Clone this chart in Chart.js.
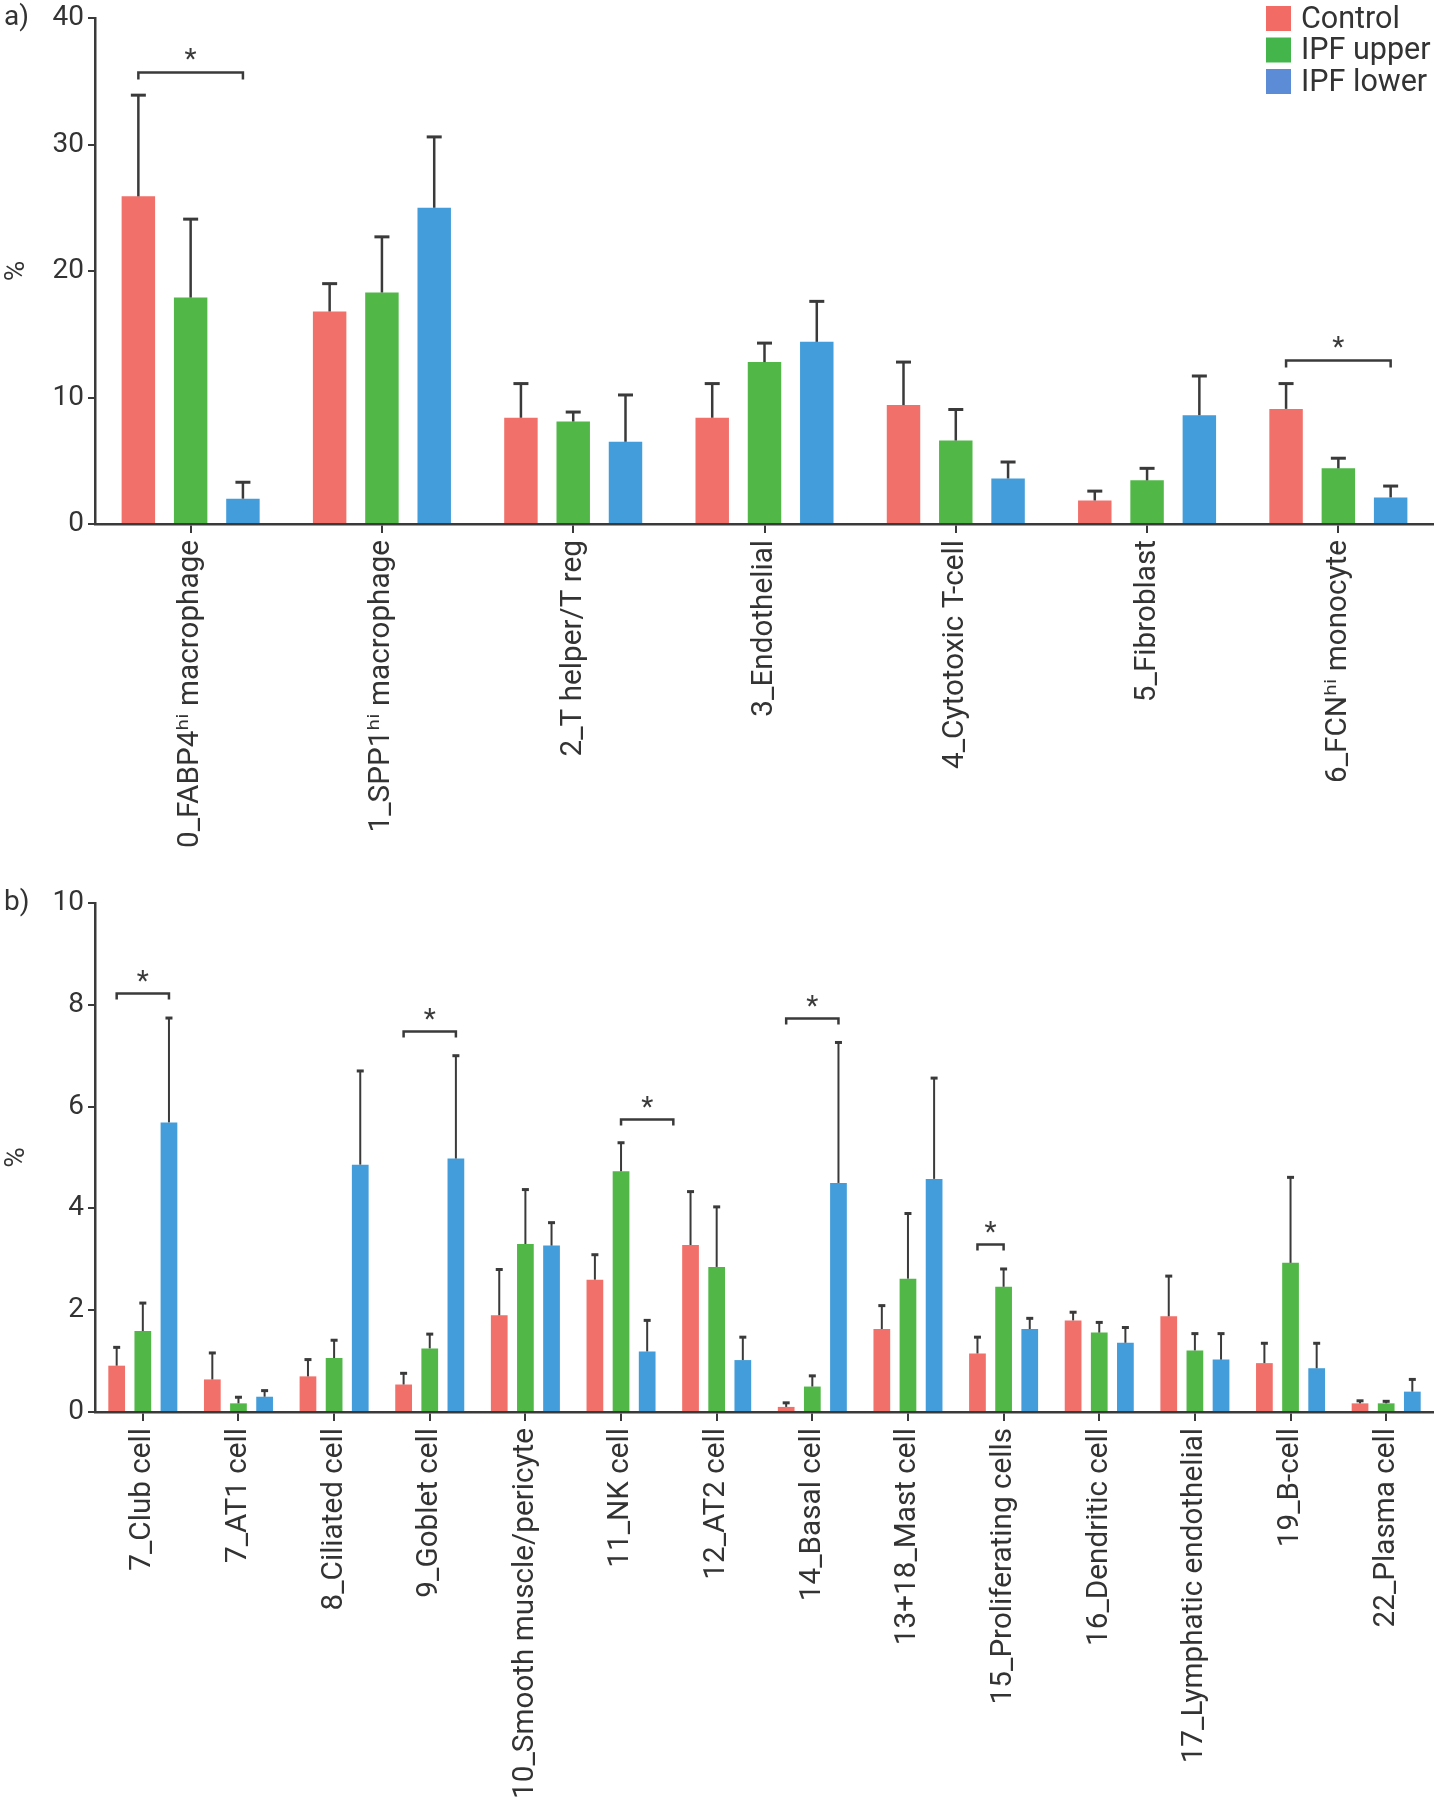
<!DOCTYPE html>
<html><head><meta charset="utf-8">
<script src="https://cdn.jsdelivr.net/npm/chart.js@4.4.1/dist/chart.umd.min.js"></script>
<style>
html,body{margin:0;padding:0;background:#fff;}
#wrap{position:relative;width:1434px;height:1800px;overflow:hidden;}
canvas{position:absolute;left:0;}
#ca{top:0;} #cb{top:870px;}
</style></head><body>
<div id="wrap">
<canvas id="ca" width="1434" height="870"></canvas>
<canvas id="cb" width="1434" height="930"></canvas>
</div>
<script>
// ---------- DATA ----------
const seriesNames = ['Control', 'IPF upper', 'IPF lower'];

const categoriesA = ['0_FABP4\u02B0\u2071 macrophage', '1_SPP1\u02B0\u2071 macrophage', '2_T helper/T reg',
  '3_Endothelial', '4_Cytotoxic T-cell', '5_Fibroblast', '6_FCN\u02B0\u2071 monocyte'];
const controlA      = [25.9, 16.8, 8.4, 8.4, 9.4, 1.86, 9.1];
const controlAErr   = [33.9, 19.0, 11.1, 11.1, 12.8, 2.6, 11.1];
const ipfUpperA     = [17.9, 18.3, 8.1, 12.8, 6.6, 3.45, 4.4];
const ipfUpperAErr  = [24.1, 22.7, 8.85, 14.3, 9.05, 4.4, 5.2];
const ipfLowerA     = [2.0, 25.0, 6.5, 14.4, 3.6, 8.6, 2.1];
const ipfLowerAErr  = [3.3, 30.6, 10.2, 17.6, 4.9, 11.7, 3.0];
const ticksA = [0, 10, 20, 30, 40];
// significance brackets: category, from bar, to bar, level (%)
const sigA = [
  {cat: 0, from: 0, to: 2, level: 35.7},
  {cat: 6, from: 0, to: 2, level: 13.0}
];

const categoriesB = ['7_Club cell', '7_AT1 cell', '8_Ciliated cell', '9_Goblet cell', '10_Smooth muscle/pericyte',
  '11_NK cell', '12_AT2 cell', '14_Basal cell', '13+18_Mast cell', '15_Proliferating cells', '16_Dendritic cell',
  '17_Lymphatic endothelial', '19_B-cell', '22_Plasma cell'];
const controlB      = [0.91, 0.64, 0.70, 0.54, 1.90, 2.60, 3.28, 0.10, 1.63, 1.15, 1.80, 1.88, 0.96, 0.17];
const controlBErr   = [1.27, 1.16, 1.03, 0.76, 2.80, 3.09, 4.33, 0.18, 2.09, 1.47, 1.96, 2.67, 1.35, 0.22];
const ipfUpperB     = [1.59, 0.17, 1.06, 1.25, 3.30, 4.73, 2.85, 0.50, 2.62, 2.46, 1.56, 1.21, 2.93, 0.17];
const ipfUpperBErr  = [2.14, 0.29, 1.41, 1.53, 4.37, 5.29, 4.03, 0.71, 3.90, 2.81, 1.76, 1.54, 4.61, 0.21];
const ipfLowerB     = [5.69, 0.30, 4.86, 4.98, 3.27, 1.19, 1.02, 4.50, 4.58, 1.63, 1.36, 1.03, 0.86, 0.40];
const ipfLowerBErr  = [7.74, 0.42, 6.70, 7.00, 3.72, 1.80, 1.47, 7.26, 6.56, 1.84, 1.66, 1.54, 1.35, 0.64];
const ticksB = [0, 2, 4, 6, 8, 10];
const sigB = [
  {cat: 0, from: 0, to: 2, level: 8.23},
  {cat: 3, from: 0, to: 2, level: 7.48},
  {cat: 5, from: 1, to: 3, level: 5.76},
  {cat: 7, from: 0, to: 2, level: 7.74},
  {cat: 9, from: 0, to: 1, level: 3.30}
];

// ---------- STYLE ----------
const INK = '#3a3a3a';
const TEXT = '#333333';
const FONT = 'Roboto, "DejaVu Sans", sans-serif';
const barColors = ['#F2706A', '#51B848', '#429DDA'];
const legendColors = ['#F26C65', '#43B54A', '#5B8CD5'];

Chart.defaults.font.family = FONT;
Chart.defaults.color = TEXT;

const annotPlugin = {
  id: 'annot',
  afterDatasetsDraw(chart, args, o) {
    const ctx = chart.ctx, ys = chart.scales.y;
    ctx.save();
    ctx.strokeStyle = INK;
    ctx.fillStyle = INK;
    ctx.lineWidth = o.lw;
    o.err.forEach((arr, di) => {
      const meta = chart.getDatasetMeta(di);
      meta.data.forEach((bar, i) => {
        const yt = ys.getPixelForValue(arr[i]);
        ctx.beginPath();
        ctx.moveTo(bar.x, bar.y);
        ctx.lineTo(bar.x, yt);
        ctx.stroke();
        ctx.lineWidth = o.capLw;
        ctx.beginPath();
        ctx.moveTo(bar.x - o.cap / 2, yt);
        ctx.lineTo(bar.x + o.cap / 2, yt);
        ctx.stroke();
        ctx.lineWidth = o.lw;
      });
    });
    ctx.font = o.starSize + 'px ' + FONT;
    ctx.textAlign = 'center';
    ctx.textBaseline = 'alphabetic';
    o.sig.forEach(s => {
      const b0 = chart.getDatasetMeta(0).data[s.cat];
      const b1 = chart.getDatasetMeta(1).data[s.cat];
      const sp = b1.x - b0.x;
      const x1 = b0.x + s.from * sp, x2 = b0.x + s.to * sp;
      const yb = Math.round(ys.getPixelForValue(s.level)) + 0.5;
      ctx.lineWidth = o.bracketLw;
      ctx.beginPath();
      ctx.moveTo(x1, yb + o.bracketTick);
      ctx.lineTo(x1, yb);
      ctx.lineTo(x2, yb);
      ctx.lineTo(x2, yb + o.bracketTick);
      ctx.stroke();
      ctx.fillText('*', (x1 + x2) / 2, yb - o.starGap);
    });
    ctx.restore();
  },
  afterDraw(chart, args, o) {
    const ctx = chart.ctx, ys = chart.scales.y;
    ctx.save();
    ctx.fillStyle = TEXT;
    ctx.font = '28px ' + FONT;
    ctx.textAlign = 'left';
    ctx.textBaseline = 'middle';
    ctx.fillText(o.letter, 4, ys.getPixelForValue(ys.max));
    if (o.legend) {
      ctx.font = '30.5px ' + FONT;
      seriesNames.forEach((n, i) => {
        const y = 6 + i * 31.5;
        ctx.fillStyle = legendColors[i];
        ctx.fillRect(1266, y, 25, 25);
        ctx.fillStyle = TEXT;
        ctx.fillText(n, 1301, y + 14);
      });
    }
    ctx.restore();
  }
};

function makePanel(id, labels, vals, errs, yMax, step, sig, layoutTop, bottomPx, canvasH, opts) {
  const datasets = vals.map((v, i) => ({
    label: seriesNames[i], data: v, backgroundColor: barColors[i], borderWidth: 0,
    barPercentage: 0.64, categoryPercentage: 0.82
  }));
  return new Chart(document.getElementById(id), {
    type: 'bar',
    data: {labels: labels, datasets: datasets},
    plugins: [annotPlugin],
    options: {
      responsive: false, animation: false, devicePixelRatio: 1,
      layout: {padding: {top: layoutTop, left: 0, right: 0, bottom: 0}},
      plugins: {
        legend: {display: false}, tooltip: {enabled: false},
        annot: Object.assign({err: errs, sig: sig}, opts)
      },
      scales: {
        x: {
          z: 1,
          offset: true,
          grid: {display: true, drawOnChartArea: false, drawTicks: true, tickLength: 9, offset: false, color: INK, lineWidth: 2},
          border: {display: true, color: INK, width: 2.5},
          ticks: {autoSkip: false, minRotation: 90, maxRotation: 90, padding: 7, color: TEXT,
            font: {size: 29.7, family: FONT}},
          afterFit(scale) { scale.height = canvasH - bottomPx; }
        },
        y: {
          z: 1,
          min: 0, max: yMax,
          grid: {display: true, drawOnChartArea: false, drawTicks: true, tickLength: 7, color: INK, lineWidth: 2},
          border: {display: true, color: INK, width: 2.5},
          ticks: {stepSize: step, padding: 4, color: TEXT, font: {size: 28, family: FONT, lineHeight: 1}},
          title: {display: true, text: '%', color: TEXT, font: {size: 28, family: FONT, lineHeight: 1.2}, padding: {top: 0, bottom: 0}},
          afterFit(scale) { scale.width = 95; }
        }
      }
    }
  });
}

makePanel('ca', categoriesA, [controlA, ipfUpperA, ipfLowerA], [controlAErr, ipfUpperAErr, ipfLowerAErr],
  ticksA[ticksA.length - 1], ticksA[1] - ticksA[0], sigA, 15, 524, 870,
  {lw: 2.5, capLw: 3, cap: 15, bracketLw: 2.5, bracketTick: 7, starGap: 5, starSize: 28, letter: 'a)', legend: true});

makePanel('cb', categoriesB, [controlB, ipfUpperB, ipfLowerB], [controlBErr, ipfUpperBErr, ipfLowerBErr],
  ticksB[ticksB.length - 1], ticksB[1] - ticksB[0], sigB, 33, 542, 930,
  {lw: 2, capLw: 3, cap: 7, bracketLw: 2.5, bracketTick: 6, starGap: 4, starSize: 28, letter: 'b)', legend: false});
</script>
</body></html>
